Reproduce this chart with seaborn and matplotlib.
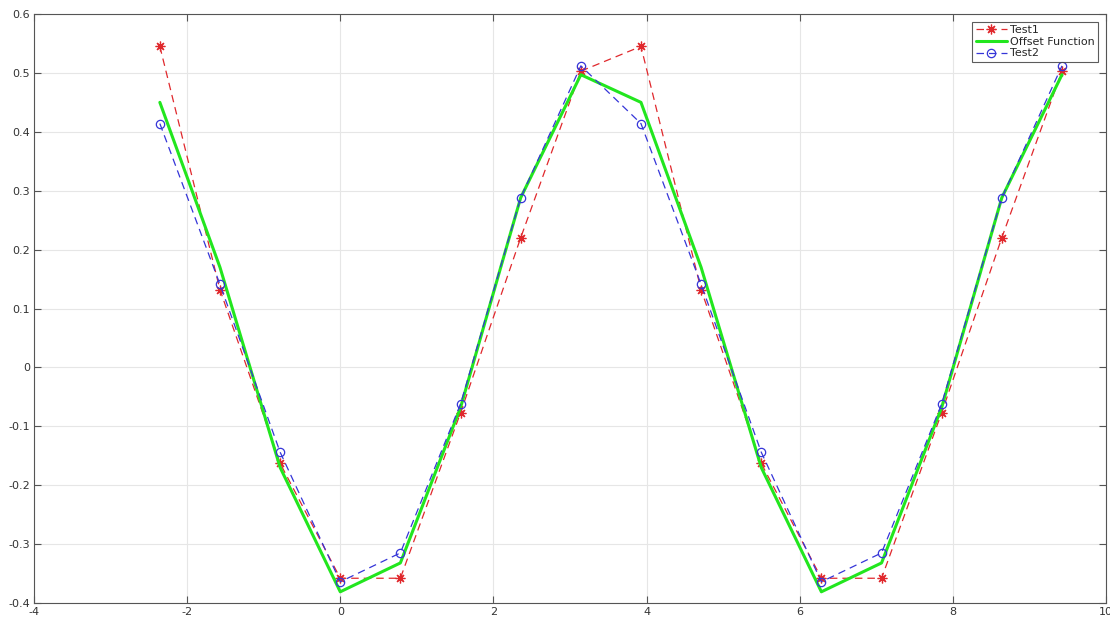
import numpy as np
import pandas as pd
import matplotlib
matplotlib.use("Agg")
import matplotlib.pyplot as plt
import seaborn as sns

x_vals = [-2.356, -1.571, -0.785, 0.0, 0.785, 1.571, 2.356, 3.142,
          3.927, 4.712, 5.498, 6.283, 7.069, 7.854, 8.639, 9.425]
test1 = [0.545, 0.132, -0.163, -0.358, -0.358, -0.077, 0.220, 0.503,
         0.545, 0.132, -0.163, -0.358, -0.358, -0.077, 0.220, 0.503]
offset_fn = [0.450, 0.170, -0.170, -0.381, -0.332, -0.068, 0.288, 0.497,
             0.450, 0.170, -0.170, -0.381, -0.332, -0.068, 0.288, 0.497]
test2 = [0.414, 0.141, -0.144, -0.364, -0.315, -0.062, 0.288, 0.512,
         0.414, 0.141, -0.144, -0.364, -0.315, -0.062, 0.288, 0.512]
x_ticks = [-4, -2, 0, 2, 4, 6, 8, 10]
y_ticks = [-0.4, -0.3, -0.2, -0.1, 0, 0.1, 0.2, 0.3, 0.4, 0.5, 0.6]
y_tick_labels = ["-0.4", "-0.3", "-0.2", "-0.1", "0", "0.1", "0.2", "0.3", "0.4", "0.5", "0.6"]

sns.set_theme(style="whitegrid")
plt.rcParams['font.family'] = ['DejaVu Sans']

fig = plt.figure(figsize=(11.1, 6.18), dpi=100)
ax = fig.add_axes([0.0306, 0.0243, 0.9658, 0.9530])

sns.lineplot(x=x_vals, y=test1, ax=ax, color="#e0282c", linestyle=(0, (6, 4)),
             linewidth=0.9, marker=(8, 2, 0), markersize=7, markeredgewidth=0.9,
             markeredgecolor="#e0282c", label="Test1", sort=False)
sns.lineplot(x=x_vals, y=offset_fn, ax=ax, color="#22e61e", linewidth=2.2,
             label="Offset Function", sort=False)
sns.lineplot(x=x_vals, y=test2, ax=ax, color="#3535d8", linestyle=(0, (6, 4)),
             linewidth=0.9, marker="o", markersize=6, markerfacecolor="none",
             markeredgecolor="#3535d8", markeredgewidth=0.9, label="Test2", sort=False)

ax.set_xlim(-4, 10)
ax.set_ylim(-0.4, 0.6)
ax.set_xticks(x_ticks)
ax.set_xticklabels([str(t) for t in x_ticks])
ax.set_yticks(y_ticks)
ax.set_yticklabels(y_tick_labels)
ax.grid(True, color="#e6e6e6", linewidth=0.8)
ax.set_facecolor("white")
for s in ax.spines.values():
    s.set_color("#555555")
    s.set_linewidth(0.8)
ax.tick_params(axis="both", direction="in", length=5, width=0.8, color="#555555",
               labelsize=8, labelcolor="#333333", top=True, right=True,
               left=True, bottom=True, pad=3)

leg = ax.legend(loc="upper right", fontsize=8, frameon=True, fancybox=False,
                handlelength=2.8, borderaxespad=0.7, labelspacing=0.15,
                borderpad=0.3, handletextpad=0.3)
leg.get_frame().set_edgecolor("#333333")
leg.get_frame().set_linewidth(0.8)

fig.savefig("out.png", dpi=100)
